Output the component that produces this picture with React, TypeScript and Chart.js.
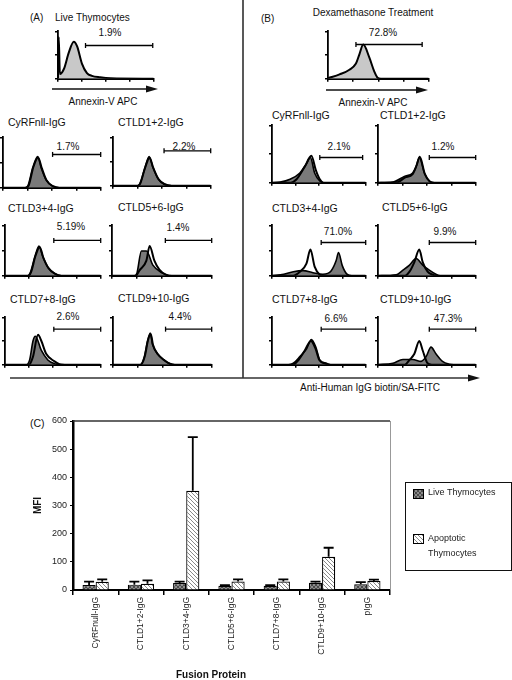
import React, { useEffect, useRef } from "react";
import { Chart, registerables } from "chart.js";

Chart.register(...registerables);

const FONT = '"Liberation Sans", Arial, Helvetica, sans-serif';

// ---------------- Panel C: MFI bar chart ----------------
const FUSION_PROTEINS = ["CyRFnull-IgG", "CTLD1+2-IgG", "CTLD3+4-IgG", "CTLD5+6-IgG", "CTLD7+8-IgG", "CTLD9+10-IgG", "pIgG"];
const SERIES_NAMES = ["Live Thymocytes", "Apoptotic Thymocytes"];
const LIVE_MFI = [18, 19, 25, 15, 15, 26, 20];
const LIVE_ERR = [12, 11, 5, 2, 2, 4, 8];
const APOP_MFI = [29, 22, 352, 30, 30, 118, 32];
const APOP_ERR = [9, 12, 191, 8, 8, 32, 5];
const MFI_MIN = 0;
const MFI_MAX = 600;
const MFI_STEP = 100;

// ---------------- Panels A/B: flow histograms ----------------
// points: [log10 fluorescence (0..4 decades), height in % of plot]
type Pts = [number, number][];

const LIVE_ANNEXIN: Pts = [[0, 0], [0.03, 88], [0.08, 10], [0.25, 21], [0.45, 55], [0.66, 78], [0.8, 68], [1.0, 32], [1.21, 12], [1.42, 6], [1.76, 3], [2.2, 1], [4, 0]];
const DEX_ANNEXIN: Pts = [[0, 1], [0.46, 9], [0.85, 19], [1.11, 32], [1.25, 52], [1.4, 72], [1.64, 45], [1.84, 15], [1.97, 2], [2.1, 0], [4, 0]];
const ANNEXIN_PCT = ["1.9%", "72.8%"];
const LIVE_ANNEXIN_GATE = [1.15, 3.96, 70];
const DEX_ANNEXIN_GATE = [1.11, 3.74, 72];

const HIST_TITLES = ["CyRFnll-IgG", "CTLD1+2-IgG", "CTLD3+4-IgG", "CTLD5+6-IgG", "CTLD7+8-IgG", "CTLD9+10-IgG"];
const LIVE_PCT = ["1.7%", "2.2%", "5.19%", "1.4%", "2.6%", "4.4%"];
const DEX_PCT = ["2.1%", "1.2%", "71.0%", "9.9%", "6.6%", "47.3%"];

// Live thymocytes: stained (filled) and control (open)
const LIVE_CYRF_STAIN: Pts = [[0, 0], [0.9, 0], [1.01, 3], [1.22, 40], [1.42, 62], [1.56, 40], [1.76, 16], [2.03, 3], [2.3, 0], [4, 0]];
const LIVE_CYRF_CTRL: Pts = [[0, 0], [0.95, 0], [1.05, 4], [1.25, 42], [1.44, 60], [1.58, 40], [1.78, 15], [2.05, 3], [2.3, 0], [4, 0]];
const LIVE_C12_STAIN: Pts = [[0, 0], [1.0, 0], [1.1, 4], [1.3, 36], [1.48, 60], [1.62, 40], [1.85, 14], [2.1, 3], [2.4, 0], [4, 0]];
const LIVE_C12_CTRL: Pts = [[0, 0], [1.02, 0], [1.12, 5], [1.32, 38], [1.5, 58], [1.64, 38], [1.87, 13], [2.12, 3], [2.4, 0], [4, 0]];
const LIVE_C34_STAIN: Pts = [[0, 0], [0.95, 0], [1.05, 5], [1.25, 38], [1.42, 59], [1.58, 38], [1.8, 16], [2.05, 5], [2.35, 0], [4, 0]];
const LIVE_C34_CTRL: Pts = [[0, 0], [0.98, 0], [1.08, 6], [1.28, 40], [1.45, 57], [1.6, 36], [1.82, 15], [2.08, 4], [2.35, 0], [4, 0]];
const LIVE_C56_STAIN: Pts = [[0, 0], [0.9, 0], [1.0, 5], [1.18, 49], [1.38, 49], [1.64, 21], [2.03, 5], [2.3, 0], [4, 0]];
const LIVE_C56_CTRL: Pts = [[0, 0], [0.95, 0], [1.11, 11], [1.38, 30], [1.51, 59], [1.7, 30], [1.9, 12], [2.16, 2], [2.4, 0], [4, 0]];
const LIVE_C78_STAIN: Pts = [[0, 0], [0.9, 0], [1.03, 10], [1.17, 50], [1.27, 60], [1.52, 30], [1.79, 10], [2.07, 2], [2.3, 0], [4, 0]];
const LIVE_C78_CTRL: Pts = [[0, 0], [1.0, 0], [1.17, 17], [1.38, 63], [1.52, 50], [1.72, 23], [2.07, 7], [2.28, 1], [2.5, 0], [4, 0]];
const LIVE_C910_STAIN: Pts = [[0, 0], [1.1, 0], [1.27, 17], [1.4, 50], [1.51, 67], [1.6, 43], [1.8, 23], [2.07, 10], [2.27, 3], [2.5, 0], [4, 0]];
const LIVE_C910_CTRL: Pts = [[0, 0], [1.12, 0], [1.29, 18], [1.42, 52], [1.53, 65], [1.62, 42], [1.82, 22], [2.09, 9], [2.3, 2], [2.5, 0], [4, 0]];

// Dexamethasone-treated thymocytes
const DEX_CYRF_STAIN: Pts = [[0, 0], [0.35, 1], [0.77, 6], [1.19, 17], [1.47, 33], [1.64, 44], [1.82, 17], [2.04, 3], [2.2, 0], [4, 0]];
const DEX_CYRF_CTRL: Pts = [[0, 0], [0.8, 0], [1.05, 6], [1.4, 28], [1.68, 47], [1.87, 22], [2.04, 6], [2.2, 0], [4, 0]];
const DEX_C12_STAIN: Pts = [[0, 0], [0.6, 1], [1.08, 11], [1.42, 17], [1.56, 28], [1.69, 44], [1.9, 17], [2.1, 3], [2.3, 0], [4, 0]];
const DEX_C12_CTRL: Pts = [[0, 0], [0.8, 1], [1.1, 9], [1.42, 15], [1.58, 30], [1.71, 45], [1.92, 15], [2.12, 2], [2.3, 0], [4, 0]];
const DEX_C34_STAIN: Pts = [[0, 0], [0.5, 3], [0.91, 8], [1.33, 10], [1.75, 6], [2.17, 3], [2.53, 10], [2.74, 30], [2.84, 46], [3.0, 20], [3.2, 3], [3.4, 0], [4, 0]];
const DEX_C34_CTRL: Pts = [[0, 0], [0.9, 0], [1.19, 8], [1.47, 24], [1.64, 52], [1.82, 18], [2.04, 2], [2.2, 0], [4, 0]];
const DEX_C56_STAIN: Pts = [[0, 0], [0.75, 2], [1.02, 11], [1.29, 21], [1.56, 34], [1.83, 21], [2.1, 11], [2.37, 3], [2.55, 0], [4, 0]];
const DEX_C56_CTRL: Pts = [[0, 0], [1.1, 0], [1.29, 8], [1.49, 27], [1.69, 52], [1.83, 27], [2.03, 8], [2.24, 2], [2.4, 0], [4, 0]];
const DEX_C78_STAIN: Pts = [[0, 0], [0.7, 0], [0.91, 3], [1.19, 17], [1.47, 33], [1.68, 53], [1.87, 37], [2.04, 10], [2.32, 3], [2.5, 0], [4, 0]];
const DEX_C78_CTRL: Pts = [[0, 0], [0.9, 0], [1.1, 8], [1.4, 30], [1.66, 50], [1.85, 35], [2.02, 10], [2.3, 2], [2.5, 0], [4, 0]];
const DEX_C910_STAIN: Pts = [[0, 0], [0.61, 3], [1.02, 11], [1.42, 11], [1.76, 7], [1.97, 17], [2.17, 37], [2.37, 23], [2.64, 7], [2.92, 1], [3.1, 0], [4, 0]];
const DEX_C910_CTRL: Pts = [[0, 0], [1.1, 0], [1.29, 10], [1.49, 23], [1.69, 50], [1.83, 30], [2.03, 3], [2.2, 0], [4, 0]];

// gates: [start decade, end decade, height %]
const LIVE_GATES = [[2.03, 4.0, 66], [2.09, 4.0, 72], [2.04, 4.0, 70], [2.14, 4.0, 70], [2.04, 4.0, 75], [2.13, 4.0, 75]];
const DEX_GATES = [[2.04, 3.87, 44], [2.1, 4.0, 44], [2.1, 4.0, 66], [2.1, 4.0, 66], [2.1, 4.0, 75], [2.1, 4.0, 75]];

const LIVE_STAIN = [LIVE_CYRF_STAIN, LIVE_C12_STAIN, LIVE_C34_STAIN, LIVE_C56_STAIN, LIVE_C78_STAIN, LIVE_C910_STAIN];
const LIVE_CTRL = [LIVE_CYRF_CTRL, LIVE_C12_CTRL, LIVE_C34_CTRL, LIVE_C56_CTRL, LIVE_C78_CTRL, LIVE_C910_CTRL];
const DEX_STAIN = [DEX_CYRF_STAIN, DEX_C12_STAIN, DEX_C34_STAIN, DEX_C56_STAIN, DEX_C78_STAIN, DEX_C910_STAIN];
const DEX_CTRL = [DEX_CYRF_CTRL, DEX_C12_CTRL, DEX_C34_CTRL, DEX_C56_CTRL, DEX_C78_CTRL, DEX_C910_CTRL];

// ---------------- layout (pixels) ----------------
const LIVE_BOXES = [[3, 135, 102, 188], [113, 135, 212, 186], [5, 223, 102, 276], [112, 223, 213, 276], [5, 315, 102, 365], [113, 315, 213, 365]];
const DEX_BOXES = [[272, 123, 367, 183], [378, 123, 477, 183], [272, 223, 367, 276], [378, 223, 477, 276], [272, 315, 367, 365], [378, 315, 477, 365]];
const LIVE_TITLE_POS = [[8, 122], [118, 122], [8, 208], [118, 207], [10, 299], [118, 298]];
const DEX_TITLE_POS = [[272, 115], [380, 115], [272, 208], [382, 207], [272, 299], [380, 299]];
const LIVE_PCT_POS = [[68, 147], [184, 147], [71, 227], [178, 228], [68, 317], [180, 317]];
const DEX_PCT_POS = [[339, 147], [443, 147], [338, 232], [445, 232], [336, 319], [448, 319]];

function Histogram(props: { box: number[]; filled: Pts; control?: Pts; gate: number[]; fillColor: string }) {
  const ref = useRef<HTMLCanvasElement>(null);
  const [x0, y0, x1, y1] = props.box;
  const w = x1 - x0 + 10;
  const h = y1 - y0 + 8;
  useEffect(() => {
    const toXY = (p: Pts) => p.map(([x, y]) => ({ x, y }));
    const datasets: any[] = [];
    if (props.control) {
      datasets.push({
        data: toXY(props.control),
        borderColor: "#000",
        borderWidth: 2,
        fill: false,
        pointRadius: 0,
        cubicInterpolationMode: "monotone",
      });
    }
    datasets.push({
      data: toXY(props.filled),
      borderColor: "#000",
      borderWidth: props.control ? 1.6 : 2,
      backgroundColor: props.fillColor,
      fill: "origin",
      pointRadius: 0,
      cubicInterpolationMode: "monotone",
    });
    const [g0, g1, gy] = props.gate;
    datasets.push({
      data: [{ x: g0, y: gy }, { x: g1, y: gy }],
      borderColor: "#000",
      borderWidth: 1.4,
      fill: false,
      pointStyle: "line",
      pointRotation: 90,
      pointRadius: 2.5,
      pointBorderWidth: 1.3,
      pointBorderColor: "#000",
      clip: 8,
    });
    const axisGrid = { drawOnChartArea: false, tickLength: 3, color: "#000", lineWidth: 1.5 };
    const chart = new Chart(ref.current!, {
      type: "line",
      data: { datasets },
      options: {
        animation: false,
        responsive: false,
        devicePixelRatio: 1,
        layout: { padding: { left: 2, right: 4, top: 3, bottom: 1 } },
        plugins: { legend: { display: false }, tooltip: { enabled: false } },
        scales: {
          x: {
            type: "linear",
            min: 0,
            max: 4,
            ticks: { display: false, stepSize: 1 },
            grid: axisGrid,
            border: { color: "#000", width: 2 },
            afterFit: (s: any) => {
              s.height = 4;
            },
          },
          y: {
            min: 0,
            max: 100,
            ticks: { display: false, stepSize: 50 },
            grid: axisGrid,
            border: { color: "#000", width: 1.8 },
            afterFit: (s: any) => {
              s.width = 4;
            },
          },
        },
      } as any,
    });
    return () => chart.destroy();
  }, []);
  return (
    <canvas
      ref={ref}
      width={w}
      height={h}
      style={{ position: "absolute", left: x0 - 6, top: y0 - 3, width: w, height: h }}
    />
  );
}

function makePattern(draw: (g: CanvasRenderingContext2D) => void): CanvasPattern | string {
  const c = document.createElement("canvas");
  c.width = 4;
  c.height = 4;
  const g = c.getContext("2d");
  if (!g) return "#999";
  draw(g);
  return g.createPattern(c, "repeat") || "#999";
}

function MfiChart() {
  const ref = useRef<HTMLCanvasElement>(null);
  useEffect(() => {
    const livePat = makePattern((g) => {
      g.fillStyle = "#8a8a8a";
      g.fillRect(0, 0, 4, 4);
      g.strokeStyle = "#4a4a4a";
      g.lineWidth = 1;
      g.beginPath();
      g.moveTo(0, 0);
      g.lineTo(4, 4);
      g.moveTo(4, 0);
      g.lineTo(0, 4);
      g.stroke();
    });
    const apopPat = makePattern((g) => {
      g.fillStyle = "#ffffff";
      g.fillRect(0, 0, 4, 4);
      g.strokeStyle = "#8a8a8a";
      g.lineWidth = 1;
      g.beginPath();
      g.moveTo(-1, -1);
      g.lineTo(5, 5);
      g.moveTo(-1, 3);
      g.lineTo(1, 5);
      g.moveTo(3, -1);
      g.lineTo(5, 1);
      g.stroke();
    });

    const errorBars = {
      id: "errorBars",
      afterDatasetsDraw(chart: any) {
        const { ctx } = chart;
        const yScale = chart.scales.y;
        const errs = [LIVE_ERR, APOP_ERR];
        ctx.save();
        ctx.strokeStyle = "#000";
        ctx.lineWidth = 1.8;
        errs.forEach((arr, di) => {
          const meta = chart.getDatasetMeta(di);
          meta.data.forEach((bar: any, i: number) => {
            const v = chart.data.datasets[di].data[i] as number;
            const top = yScale.getPixelForValue(v + arr[i]);
            ctx.beginPath();
            ctx.moveTo(bar.x, bar.y);
            ctx.lineTo(bar.x, top);
            ctx.moveTo(bar.x - 5, top);
            ctx.lineTo(bar.x + 5, top);
            ctx.stroke();
          });
        });
        ctx.restore();
      },
    };

    const frameAndLegend = {
      id: "frameAndLegend",
      afterDraw(chart: any) {
        const { ctx, chartArea } = chart;
        const { left, right, top, bottom } = chartArea;
        ctx.save();
        ctx.strokeStyle = "#333";
        ctx.lineWidth = 1.5;
        ctx.beginPath();
        ctx.moveTo(left, top);
        ctx.lineTo(right, top);
        ctx.stroke();
        ctx.strokeStyle = "#999";
        ctx.lineWidth = 1;
        ctx.beginPath();
        ctx.moveTo(right + 0.5, top);
        ctx.lineTo(right + 0.5, bottom);
        ctx.stroke();

        // legend box
        ctx.strokeStyle = "#111";
        ctx.lineWidth = 1;
        ctx.strokeRect(405.5, 77.5, 106, 88);
        ctx.font = `9px ${FONT}`;
        ctx.fillStyle = "#222";
        ctx.textBaseline = "middle";
        const rows = [88, 133];
        chart.data.datasets.forEach((ds: any, i: number) => {
          const y = rows[i];
          ctx.fillStyle = ds.backgroundColor;
          ctx.fillRect(413, y - 4, 10, 9);
          ctx.strokeStyle = "#000";
          ctx.lineWidth = 1;
          ctx.strokeRect(413.5, y - 3.5, 10, 9);
          ctx.fillStyle = "#222";
          const label: string = ds.label;
          if (ctx.measureText(label).width > 78) {
            const parts = label.split(" ");
            ctx.fillText(parts[0], 428, y + 1);
            ctx.fillText(parts.slice(1).join(" "), 428, y + 16);
          } else {
            ctx.fillText(label, 428, y);
          }
        });

        ctx.font = `bold 10px ${FONT}`;
        ctx.fillStyle = "#111";
        ctx.textAlign = "center";
        ctx.fillText("Fusion Protein", 211, 270);
        ctx.restore();
      },
    };

    const chart = new Chart(ref.current!, {
      type: "bar",
      data: {
        labels: FUSION_PROTEINS,
        datasets: [
          {
            label: SERIES_NAMES[0],
            data: LIVE_MFI,
            backgroundColor: livePat as any,
            borderColor: "#000",
            borderWidth: 1.2,
            categoryPercentage: 0.58,
            barPercentage: 1.0,
          },
          {
            label: SERIES_NAMES[1],
            data: APOP_MFI,
            backgroundColor: apopPat as any,
            borderColor: "#000",
            borderWidth: 1.2,
            categoryPercentage: 0.58,
            barPercentage: 1.0,
          },
        ],
      },
      options: {
        animation: false,
        responsive: false,
        devicePixelRatio: 1,
        layout: { padding: { top: 16, right: 122, left: 0, bottom: 0 } },
        plugins: { legend: { display: false }, tooltip: { enabled: false } },
        scales: {
          x: {
            grid: { drawOnChartArea: false, tickLength: 5, color: "#000", lineWidth: 1.5, offset: true },
            border: { color: "#000", width: 2 },
            ticks: {
              autoSkip: false,
              minRotation: 90,
              maxRotation: 90,
              font: { family: FONT, size: 8.5 },
              color: "#222",
              padding: 2,
            },
            afterFit: (s: any) => {
              s.height = 90;
            },
          },
          y: {
            min: MFI_MIN,
            max: MFI_MAX,
            ticks: { stepSize: MFI_STEP, font: { family: FONT, size: 9 }, color: "#222", padding: 3 },
            grid: { drawOnChartArea: false, tickLength: 3, color: "#000" },
            border: { color: "#000", width: 2.5 },
            title: {
              display: true,
              text: "MFI",
              font: { family: FONT, size: 10, weight: "bold" },
              color: "#111",
              padding: { top: 32, bottom: 0 },
            },
            afterFit: (s: any) => {
              s.width = 73;
            },
          },
        },
      } as any,
      plugins: [errorBars, frameAndLegend],
    });
    return () => chart.destroy();
  }, []);
  return (
    <canvas ref={ref} width={512} height={275} style={{ position: "absolute", left: 0, top: 405, width: 512, height: 275 }} />
  );
}

function Txt(props: { x: number; y: number; center?: boolean; size?: number; bold?: boolean; children: React.ReactNode }) {
  return (
    <div
      style={{
        position: "absolute",
        left: props.x,
        top: props.y,
        transform: props.center ? "translate(-50%, -50%)" : "translateY(-50%)",
        fontSize: props.size ?? 10,
        lineHeight: 1,
        whiteSpace: "nowrap",
        fontWeight: props.bold ? 700 : 400,
        color: "#111",
      }}
    >
      {props.children}
    </div>
  );
}

export default function App() {
  return (
    <div
      style={{
        position: "fixed",
        left: 0,
        top: 0,
        width: 512,
        height: 680,
        background: "#fff",
        fontFamily: FONT,
        overflow: "hidden",
      }}
    >
      <svg width={512} height={680} style={{ position: "absolute", left: 0, top: 0 }}>
        <line x1={243} y1={0} x2={243} y2={378} stroke="#222" strokeWidth={1.5} />
        <line x1={10} y1={378} x2={470} y2={378} stroke="#333" strokeWidth={1.3} />
        <polygon points="468,374.5 480,378 468,381.5" fill="#111" />
        <line x1={52} y1={89} x2={149} y2={89} stroke="#111" strokeWidth={1.5} />
        <polygon points="146,85.5 158,89 146,92.5" fill="#111" />
        <line x1={326} y1={90} x2={419} y2={90} stroke="#111" strokeWidth={1.5} />
        <polygon points="416,86.5 428,90 416,93.5" fill="#111" />
      </svg>

      {/* Panel A */}
      <Txt x={30} y={18}>(A)</Txt>
      <Txt x={55} y={18}>Live Thymocytes</Txt>
      <Txt x={110} y={33} center>{ANNEXIN_PCT[0]}</Txt>
      <Histogram box={[58, 29, 155, 79]} filled={LIVE_ANNEXIN} gate={LIVE_ANNEXIN_GATE} fillColor="#c8c8c8" />
      <Txt x={103} y={102} center>Annexin-V APC</Txt>

      {/* Panel B */}
      <Txt x={261} y={19}>(B)</Txt>
      <Txt x={373} y={13} center>Dexamethasone Treatment</Txt>
      <Txt x={383} y={33} center>{ANNEXIN_PCT[1]}</Txt>
      <Histogram box={[328, 29, 430, 79]} filled={DEX_ANNEXIN} gate={DEX_ANNEXIN_GATE} fillColor="#c8c8c8" />
      <Txt x={373} y={103} center>Annexin-V APC</Txt>

      {HIST_TITLES.map((t, i) => (
        <React.Fragment key={"a" + i}>
          <Txt x={LIVE_TITLE_POS[i][0]} y={LIVE_TITLE_POS[i][1]} size={10.5}>{t}</Txt>
          <Txt x={LIVE_PCT_POS[i][0]} y={LIVE_PCT_POS[i][1]} center>{LIVE_PCT[i]}</Txt>
          <Histogram box={LIVE_BOXES[i]} filled={LIVE_STAIN[i]} control={LIVE_CTRL[i]} gate={LIVE_GATES[i]} fillColor="#7a7a7a" />
        </React.Fragment>
      ))}
      {HIST_TITLES.map((t, i) => (
        <React.Fragment key={"b" + i}>
          <Txt x={DEX_TITLE_POS[i][0]} y={DEX_TITLE_POS[i][1]} size={10.5}>{t}</Txt>
          <Txt x={DEX_PCT_POS[i][0]} y={DEX_PCT_POS[i][1]} center>{DEX_PCT[i]}</Txt>
          <Histogram box={DEX_BOXES[i]} filled={DEX_STAIN[i]} control={DEX_CTRL[i]} gate={DEX_GATES[i]} fillColor="#7a7a7a" />
        </React.Fragment>
      ))}
      <Txt x={370} y={388} center>Anti-Human IgG biotin/SA-FITC</Txt>

      {/* Panel C */}
      <Txt x={30} y={423} size={10.5}>(C)</Txt>
      <MfiChart />
    </div>
  );
}
